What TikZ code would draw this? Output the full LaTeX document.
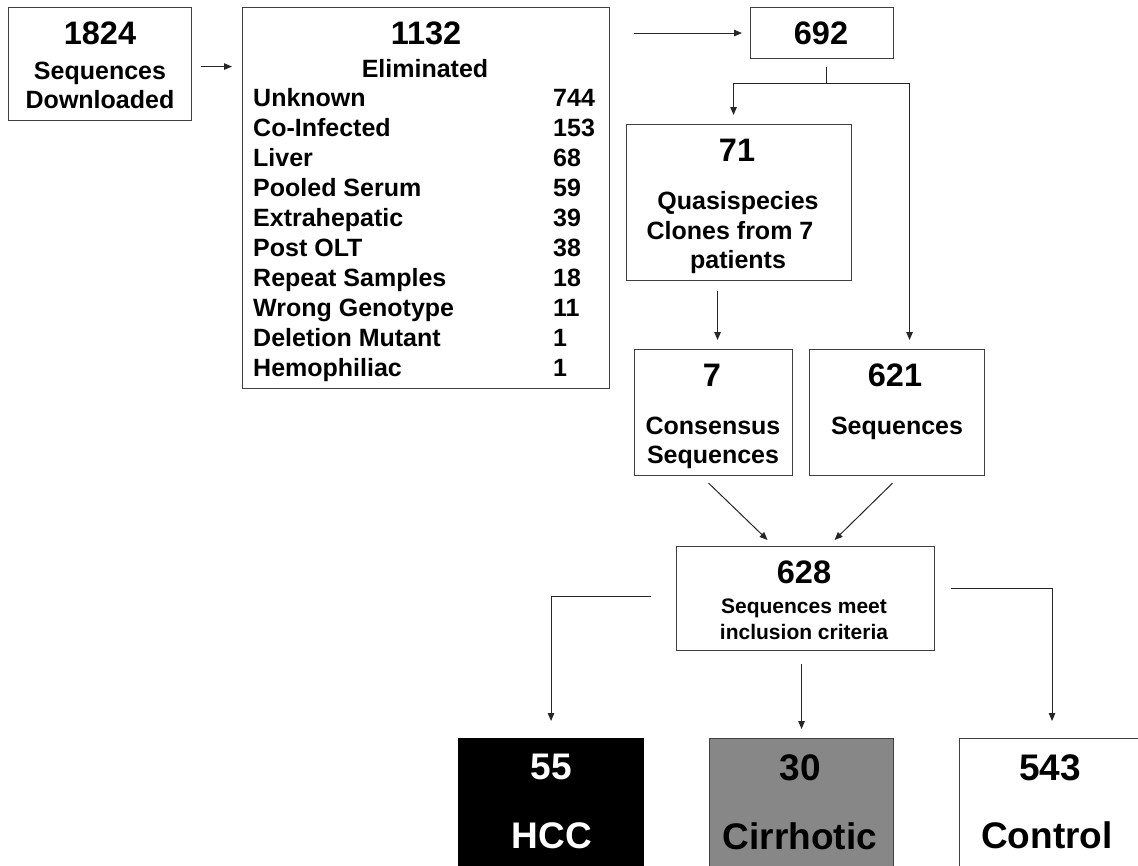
\documentclass[tikz,border=0pt]{standalone}
\usepackage{fontspec}
\setmainfont{Liberation Sans}
\usetikzlibrary{arrows.meta}
\newcommand\FNum{\fontsize{32.5}{39}\selectfont\bfseries}
\newcommand\FTxt{\fontsize{25}{30}\selectfont\bfseries}
\newcommand\FSm{\fontsize{21}{25}\selectfont\bfseries}
\newcommand\FBig{\fontsize{37}{44}\selectfont\bfseries}
\begin{document}
\begin{tikzpicture}[x=1pt,y=-1pt,
  box/.style={draw=black!75, line width=1.1pt, fill=white, inner sep=0pt, anchor=north west},
  t/.style={inner sep=0pt, anchor=base},
  tl/.style={inner sep=0pt, anchor=base west},
  conn/.style={draw=black!85, line width=1pt},
  arr/.style={conn, -{Triangle[length=8pt,width=6.5pt]}}]
\fill[white] (0,0) rectangle (1138,865);
\useasboundingbox (0,0) rectangle (1138,865);

% boxes
\node[box, minimum width=183pt, minimum height=113pt] (b1824) at (8,7) {};
\node[box, minimum width=367pt, minimum height=381pt] (b1132) at (242,7) {};
\node[box, minimum width=143pt, minimum height=51pt] (b692) at (750,7) {};
\node[box, minimum width=225pt, minimum height=156pt] (b71) at (626,124) {};
\node[box, minimum width=158pt, minimum height=126pt] (b7) at (634,349) {};
\node[box, minimum width=175pt, minimum height=126pt] (b621) at (809,349) {};
\node[box, minimum width=258pt, minimum height=104pt] (b628) at (676,546) {};
\node[box, draw=black, fill=black, minimum width=185pt, minimum height=140pt] (bHCC) at (458,738) {};
\node[box, fill={rgb,255:red,135;green,135;blue,135}, minimum width=184pt, minimum height=140pt] (bCir) at (709,738) {};
\node[box, minimum width=185pt, minimum height=140pt] (bCon) at (959,738) {};

% texts
\node[t, font=\FNum] (x1824) at (100,44.6) {1824};
\node[t, font=\FTxt] (x1824a) at (100,79) {Sequences};
\node[t, font=\FTxt] (x1824b) at (100,108) {Downloaded};

\node[t, font=\FNum] (x1132) at (426,44.6) {1132};
\node[t, font=\FTxt] (x1132a) at (425,77) {Eliminated};
\node[tl, font=\FTxt] (r1) at (253,106) {Unknown};
\node[tl, font=\FTxt] (r2) at (253,136) {Co-Infected};
\node[tl, font=\FTxt] (r3) at (253,166) {Liver};
\node[tl, font=\FTxt] (r4) at (253,196) {Pooled Serum};
\node[tl, font=\FTxt] (r5) at (253,226) {Extrahepatic};
\node[tl, font=\FTxt] (r6) at (253,256) {Post OLT};
\node[tl, font=\FTxt] (r7) at (253,286) {Repeat Samples};
\node[tl, font=\FTxt] (r8) at (253,316) {Wrong Genotype};
\node[tl, font=\FTxt] (r9) at (253,346) {Deletion Mutant};
\node[tl, font=\FTxt] (r10) at (253,376) {Hemophiliac};
\node[tl, font=\FTxt] (n1) at (553,106) {744};
\node[tl, font=\FTxt] (n2) at (553,136) {153};
\node[tl, font=\FTxt] (n3) at (553,166) {68};
\node[tl, font=\FTxt] (n4) at (553,196) {59};
\node[tl, font=\FTxt] (n5) at (553,226) {39};
\node[tl, font=\FTxt] (n6) at (553,256) {38};
\node[tl, font=\FTxt] (n7) at (553,286) {18};
\node[tl, font=\FTxt] (n8) at (553,316) {11};
\node[tl, font=\FTxt] (n9) at (553,346) {1};
\node[tl, font=\FTxt] (n10) at (553,376) {1};

\node[t, font=\FNum] (x692) at (821,44.6) {692};

\node[t, font=\FNum] (x71) at (737,161.6) {71};
\node[t, font=\FTxt] (x71a) at (738,209) {Quasispecies};
\node[t, font=\FTxt] (x71b) at (730,239) {Clones from 7};
\node[t, font=\FTxt] (x71c) at (738,268) {patients};

\node[t, font=\FNum] (x7) at (712,386.6) {7};
\node[t, font=\FTxt] (x7a) at (713,434) {Consensus};
\node[t, font=\FTxt] (x7b) at (713,463) {Sequences};

\node[t, font=\FNum] (x621) at (895,386.6) {621};
\node[t, font=\FTxt] (x621a) at (897,434) {Sequences};

\node[t, font=\FNum] (x628) at (804,583.6) {628};
\node[t, font=\FSm] (x628a) at (804,613.5) {Sequences meet};
\node[t, font=\FSm] (x628b) at (804,639.5) {inclusion criteria};

\node[t, font=\FBig, text=white] (x55) at (551,779) {55};
\node[t, font=\FBig, text=white] (x55a) at (552,848) {HCC};
\node[t, font=\FBig] (x30) at (800,780) {30};
\node[t, font=\FBig] (x30a) at (800,849) {Cirrhotic};
\node[t, font=\FBig] (x543) at (1050,780) {543};
\node[t, font=\FBig] (x543a) at (1047,848) {Control};

% connector anchor points
\coordinate (s1824) at ([xshift=9pt,yshift=-2.5pt]b1824.east);
\path (s1824 -| b1132.west) ++(-10,0) coordinate (e1824);
\coordinate (s1132) at ([xshift=24pt]b1132.east |- b692.west);
\coordinate (e692) at ([xshift=-8pt]b692.west);
\coordinate (s692) at ([xshift=4.5pt,yshift=-8pt]b692.south);
\coordinate (j692) at ([xshift=4.5pt,yshift=-24pt]b692.south);
\coordinate (t71) at ([xshift=-5.5pt,yshift=9pt]b71.north);
\coordinate (t621) at ([xshift=12.5pt,yshift=9pt]b621.north);
\coordinate (s71) at ([xshift=-21.5pt,yshift=-10pt]b71.south);
\coordinate (t7) at ([xshift=4pt,yshift=9pt]b7.north);
\coordinate (s7) at ([xshift=-5pt,yshift=-7pt]b7.south);
\coordinate (s621) at ([xshift=-4.5pt,yshift=-7pt]b621.south);
\coordinate (t628a) at ([xshift=-38pt,yshift=6pt]b628.north);
\coordinate (t628b) at ([xshift=29pt,yshift=6pt]b628.north);
\coordinate (s628l) at ([xshift=-25pt,yshift=2pt]b628.west);
\coordinate (s628m) at ([xshift=-4pt,yshift=-13pt]b628.south);
\coordinate (s628r) at ([xshift=16pt,yshift=10pt]b628.east);
\coordinate (tHCC) at ([yshift=17pt]bHCC.north);
\coordinate (tCir) at ([yshift=9pt]bCir.north);
\coordinate (tCon) at ([yshift=17pt]bCon.north);

% connectors
\draw[arr] (s1824) -- (e1824);
\draw[arr] (s1132) -- (e692);
\draw[conn] (s692) -- (j692);
\draw[arr] (j692) -| (t71);
\draw[arr] (j692) -| (t621);
\draw[arr] (s71) -- (s71 |- t7);
\draw[arr] (s7) -- (t628a);
\draw[arr] (s621) -- (t628b);
\draw[arr] (s628l) -| (tHCC);
\draw[arr] (s628m) -- (s628m |- tCir);
\draw[arr] (s628r) -| (tCon);
\end{tikzpicture}
\end{document}
